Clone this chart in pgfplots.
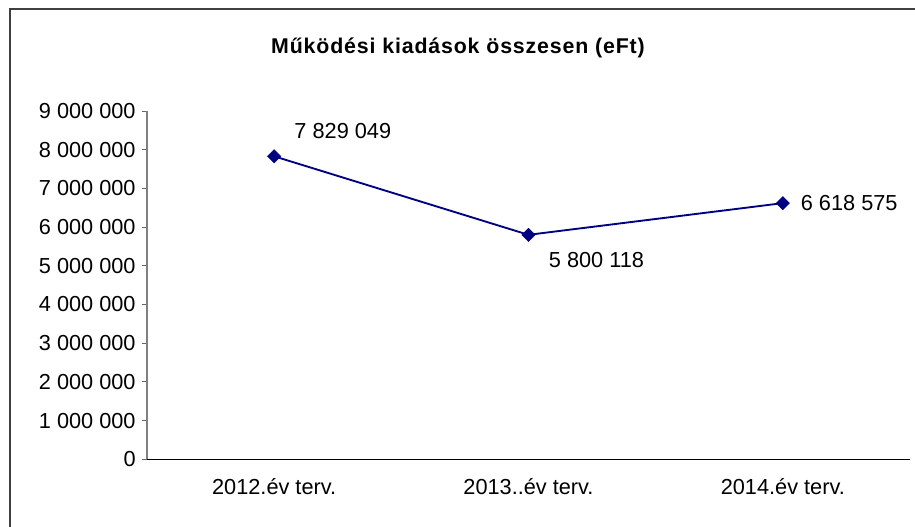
\documentclass[border=0pt]{standalone}
\usepackage{pgfplots}
\pgfplotsset{compat=1.18}
\usepackage{fontspec}
\setmainfont{Liberation Sans}
\newfontfamily\titlefont[LetterSpace=4]{Liberation Sans}

\definecolor{navyline}{HTML}{000080}

\begin{document}
\begin{tikzpicture}
% page = 915 x 527 px at 0.75pt per px
\useasboundingbox (0,0) rectangle (686.25pt,395.25pt);
% chart frame (right and bottom edges are cut off in the reference)
\draw[line width=1.4pt, black!75] (7.5pt,-2pt) -- (7.5pt,388.6pt) -- (690pt,388.6pt);

\node[font=\titlefont\fontsize{16}{19}\selectfont\bfseries] at (343.5pt,359.5pt)
  {Működési kiadások összesen (eFt)};

\begin{axis}[
    at={(110.25pt,50.8pt)}, anchor=south west,
    scale only axis,
    width=572.25pt, height=261.2pt,
    xmin=-0.5, xmax=2.5,
    ymin=0, ymax=9000000,
    scaled y ticks=false,
    axis lines*=left,
    x axis line style={black, line width=0.9pt, -},
    y axis line style={black!50, line width=0.9pt, -},
    xtick={0,1,2},
    xticklabels={2012.év terv., 2013..év terv., 2014.év terv.},
    x tick style={draw=none},
    extra x ticks={-0.5,0.5,1.5,2.5},
    extra x tick labels={},
    extra x tick style={tick style={draw=black!60, line width=0.7pt}, major tick length=5pt, tick align=outside},
    ytick={0,1000000,...,9000000},
    yticklabels={0,1 000 000,2 000 000,3 000 000,4 000 000,5 000 000,6 000 000,7 000 000,8 000 000,9 000 000},
    y tick style={black!60, line width=0.7pt},
    major tick length=4pt,
    tick align=outside,
    tick label style={font=\fontsize{16.3}{19}\selectfont},
    yticklabel style={xshift=-1pt},
    xticklabel style={yshift=-7pt},
    clip=false,
]
\addplot[color=navyline, line width=1.4pt, mark=square*, mark size=3.5pt,
         mark options={rotate=45, fill=navyline, draw=navyline, line width=0.4pt}]
  coordinates {(0,7829049) (1,5800118) (2,6618575)};

\node[font=\fontsize{16.3}{19}\selectfont] at (axis cs:0,7829049) [xshift=51.5pt, yshift=19pt] {7 829 049};
\node[font=\fontsize{16.3}{19}\selectfont] at (axis cs:1,5800118) [xshift=51pt, yshift=-19pt] {5 800 118};
\node[font=\fontsize{16.3}{19}\selectfont, anchor=west] at (axis cs:2,6618575) [xshift=10pt] {6 618 575};
\end{axis}
\end{tikzpicture}
\end{document}
